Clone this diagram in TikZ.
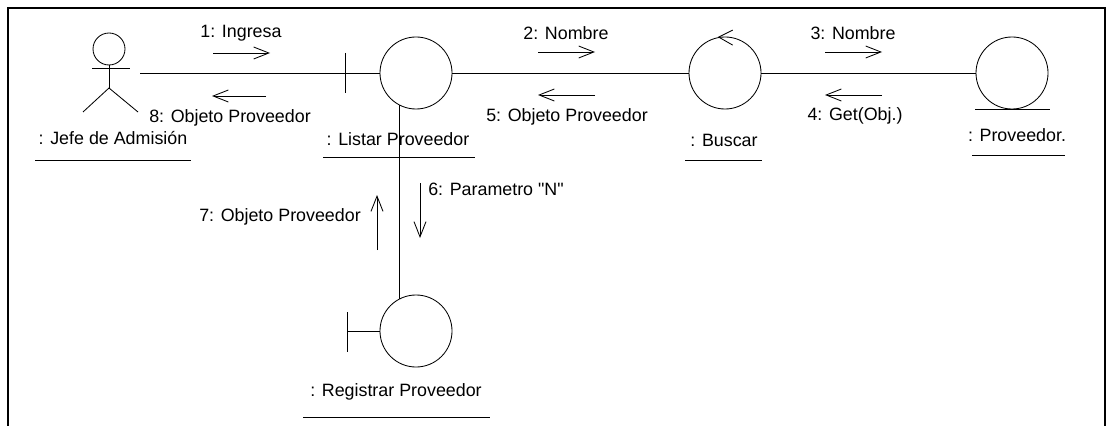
\documentclass[tikz,border=0pt]{standalone}
\usepackage{fontspec}
\setmainfont{Liberation Sans}
\usetikzlibrary{arrows.meta}
\begin{document}
\begin{tikzpicture}[x=0.025cm,y=-0.025cm,
  thinline/.style={line width=0.6pt,black},
  obj/.style={circle,draw,line width=0.6pt,inner sep=0pt,minimum size=1.8cm},
  lbl/.style={font=\fontsize{12.7}{14}\selectfont,inner sep=0pt},
  msg/.style={line width=0.6pt,-{Straight Barb[length=0.38cm,width=0.3cm,line width=0.6pt]}}]
\useasboundingbox (0,0) rectangle (1108,426);
\fill[white] (0,0) rectangle (1108,426);
% frame
\draw[line width=1.4pt] (8,430) -- (8,8) -- (1105,8) -- (1105,430);

% actor
\draw[thinline] (109,49) circle (16);
\draw[thinline] (92,68) -- (130,68);
\draw[thinline] (109,65) -- (109,88);
\draw[thinline] (83,112) -- (109,88) -- (138,112);
\coordinate (jefe) at (140,73);
\node[lbl] (jefelbl) at (113,138) {: Jefe de Admisión};
\draw[thinline] (35,160) -- (191,160);

% objects
\node[obj] (listar) at (416,73) {};
\node[obj] (buscar) at (725,73) {};
\node[obj] (prov) at (1012,73) {};
\node[obj] (registrar) at (416,331) {};

% boundary ticks
\draw[thinline] (345,53) -- (345,93);
\draw[thinline] (registrar.west) -- (347,331);
\draw[thinline] (347,312) -- (347,352);

% control chevron
\draw[thinline] ([shift={(14,-7)}]buscar.100) -- (buscar.100) -- ([shift={(14,8)}]buscar.100);

% entity underline
\draw[thinline] (975,109) -- (1050,109);

% links
\draw[thinline] (jefe) -- (listar.west);
\draw[thinline] (listar.east) -- (buscar.west);
\draw[thinline] (buscar.east) -- (prov.west);
\draw[thinline] (listar.243) -- (registrar.117);

% object labels
\node[lbl] (listarlbl) at (398,139) {: Listar Proveedor};
\draw[thinline] (323,157) -- (475,157);
\node[lbl] (buscarlbl) at (724,140) {: Buscar};
\draw[thinline] (685,160) -- (762,160);
\node[lbl] (provlbl) at (1017,135) {: Proveedor.};
\draw[thinline] (972,155) -- (1065,155);
\node[lbl] (reglbl) at (396,392) {: Registrar Proveedor};
\draw[thinline] (303,417) -- (490,417);

% messages
\node[lbl] (m1) at (241,33) {1: Ingresa};
\draw[msg] (213,53) -- (270,53);
\draw[msg] (266,96) -- (212,96);
\node[lbl] (m8) at (230,118) {8: Objeto Proveedor};

\node[lbl] (m2) at (566,33) {2: Nombre};
\draw[msg] (538,52) -- (595,52);
\draw[msg] (595,95) -- (538,95);
\node[lbl] (m5) at (567,117) {5: Objeto Proveedor};

\node[lbl] (m3) at (853,33) {3: Nombre};
\draw[msg] (825,52) -- (882,52);
\draw[msg] (882,95) -- (825,95);
\node[lbl] (m4) at (855,116) {4: Get(Obj.)};

\draw[msg] (377,250) -- (377,195);
\node[lbl] (m7) at (280,217) {7: Objeto Proveedor};
\draw[msg] (420,183) -- (420,238);
\node[lbl,anchor=west] (m6) at (428,189) {6: Parametro \textquotedbl N\textquotedbl};
\end{tikzpicture}
\end{document}
